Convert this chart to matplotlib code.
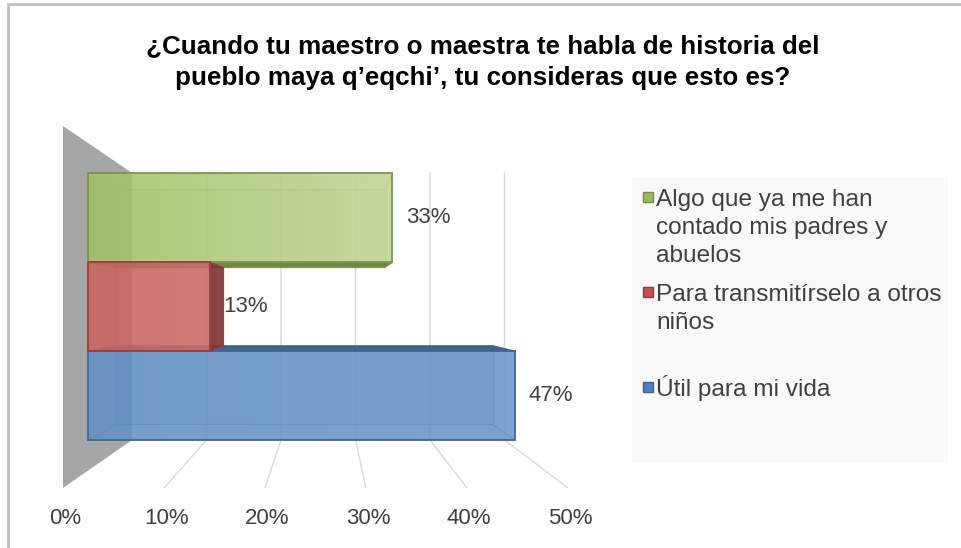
import matplotlib.pyplot as plt
import numpy as np
from matplotlib.colors import to_rgb
from matplotlib.patches import Polygon, Rectangle

plt.rcParams['font.family'] = ['Liberation Sans', 'DejaVu Sans']

TITLE_LINES = ['¿Cuando tu maestro o maestra te habla de historia del',
               'pueblo maya q’eqchi’, tu consideras que esto es?']
# series listed from the bottom bar to the top bar
SERIES = ['Útil para mi vida',
          'Para transmitírselo a otros\nniños',
          'Algo que ya me han\ncontado mis padres y\nabuelos']
VALUES = [0.467, 0.133, 0.333]
COLORS = ['#4F81BD', '#C0504D', '#9BBB59']
TICKS = [0.0, 0.1, 0.2, 0.3, 0.4, 0.5]

W, H = 961, 548
TEXT = '#404040'
GRID = '#d9d9d9'

# 3d look: vanishing point (data units) and depth scale of each plane
VP = (0.2604, 0.0055)
S_BAR_FRONT, S_BAR_BACK, S_WALL = 0.905, 0.798, 0.7376
BAR_H = 0.2716
# lightening of the front face, left -> right
SHADE = {'#4F81BD': (0.12, 0.16), '#C0504D': (0.12, 0.17), '#9BBB59': (0.08, 0.38)}


def proj(x, y, s):
    return VP[0] + (x - VP[0]) * s, VP[1] + (y - VP[1]) * s


def mix(c, t):
    r = np.array(to_rgb(c))
    return r + (1 - r) * t if t >= 0 else r * (1 + t)


fig = plt.figure(figsize=(W / 100, H / 100), dpi=100)

canvas = fig.add_axes([0, 0, 1, 1])
canvas.set_xlim(0, W); canvas.set_ylim(H, 0); canvas.axis('off')
canvas.add_patch(Rectangle((8, 4), W + 20, H + 20, facecolor='white',
                           edgecolor='#bfbfbf', linewidth=2))

ax = fig.add_axes([63 / W, 60 / H, 505 / W, 362 / H])
ax.axis('off')

# side wall
wall = [proj(0, 0.5, 1), proj(0, 0.5, S_WALL), proj(0, -0.5, S_WALL), proj(0, -0.5, 1)]
ax.add_patch(Polygon(wall, closed=True, facecolor='#a6a6a6', edgecolor='none', zorder=1))

# back wall gridlines + floor lines, tick labels on the front edge
for t in TICKS:
    if t > 0:
        ax.plot(*zip(proj(t, 0.5, S_WALL), proj(t, -0.5, S_WALL), proj(t, -0.5, 1)),
                color=GRID, linewidth=1, zorder=2)
    ax.annotate(f'{t:.0%}', (t, -0.5), xytext=(1.5, -21.6), textcoords='offset points',
                ha='center', va='center', fontsize=16, color=TEXT)

order = [2, 0, 1]
for k, i in enumerate(order):
    v, c = VALUES[i], COLORS[i]
    yc = (i - 1) * BAR_H
    y0, y1 = yc - BAR_H / 2, yc + BAR_H / 2
    z = 3 + k
    edge = mix(c, -0.2)
    front = [proj(0, y0, S_BAR_FRONT), proj(v, y0, S_BAR_FRONT),
             proj(v, y1, S_BAR_FRONT), proj(0, y1, S_BAR_FRONT)]
    back = [proj(0, y0, S_BAR_BACK), proj(v, y0, S_BAR_BACK),
            proj(v, y1, S_BAR_BACK), proj(0, y1, S_BAR_BACK)]

    ax.add_patch(Polygon(back, closed=True, facecolor=c, alpha=0.15,
                         edgecolor='none', zorder=z))
    ax.add_patch(Polygon(back, closed=True, facecolor='none', edgecolor=edge,
                         linewidth=0.9, alpha=0.65, zorder=z))
    for a, b in zip(front, back):
        ax.plot(*zip(a, b), color=edge, linewidth=0.9, alpha=0.65, zorder=z)

    sides = []
    if y0 > VP[1]:
        sides.append([front[0], front[1], back[1], back[0]])
    if y1 < VP[1]:
        sides.append([front[3], front[2], back[2], back[3]])
    if v < VP[0]:
        sides.append([front[1], front[2], back[2], back[1]])
    for sd in sides:
        ax.add_patch(Polygon(sd, closed=True, facecolor=mix(c, -0.35), alpha=0.9,
                             edgecolor=edge, linewidth=1, zorder=z))

    lo, hi = SHADE[c]
    g = np.linspace(0, 1, 256)
    rgba = np.zeros((1, 256, 4))
    for j, tt in enumerate(lo + (hi - lo) * g):
        rgba[0, j, :3] = mix(c, tt)
    rgba[0, :, 3] = 0.88
    xs = [p[0] for p in front]; ys = [p[1] for p in front]
    fpoly = Polygon(front, closed=True, facecolor='none', edgecolor=edge,
                    linewidth=1.3, zorder=z + 0.5)
    ax.add_patch(fpoly)
    im = ax.imshow(rgba, extent=[min(xs), max(xs), min(ys), max(ys)], aspect='auto',
                   origin='lower', interpolation='bilinear', zorder=z + 0.4)
    im.set_clip_path(fpoly)

    ax.annotate(f'{v:.0%}', proj(v, yc, S_BAR_FRONT), xytext=(10, 0),
                textcoords='offset points', ha='left', va='center',
                fontsize=16, color=TEXT, zorder=10)

ax.set_xlim(0, 0.5)
ax.set_ylim(-0.5, 0.5)

# title
for n, line in enumerate(TITLE_LINES):
    canvas.text(483, 53 + 32 * n, line, ha='center', va='baseline',
                fontsize=18.7, fontweight='bold', color='black')

# legend
canvas.add_patch(Rectangle((632, 177), 316, 286, facecolor='#f9f9f9', edgecolor='none'))
for n, i in enumerate(reversed(range(len(SERIES)))):
    base = 206 + 95 * n
    canvas.add_patch(Rectangle((643, base - 14), 10, 10, facecolor=COLORS[i],
                               edgecolor=mix(COLORS[i], -0.25), linewidth=1))
    for m, line in enumerate(SERIES[i].split('\n')):
        canvas.text(656, base + 28 * m, line, ha='left', va='baseline',
                    fontsize=17.6, color=TEXT)

fig.savefig('out.png', dpi=100)
